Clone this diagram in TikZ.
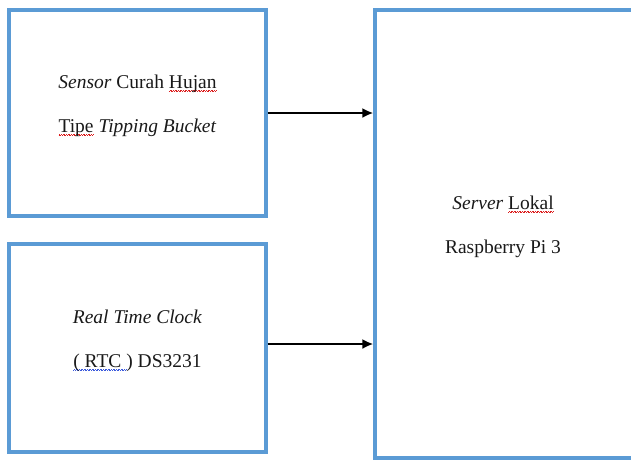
\documentclass[tikz,border=0pt]{standalone}
\usepackage{fontspec}
\setmainfont{Liberation Serif}
\usepackage{xcolor}
\usetikzlibrary{shapes,arrows.meta,positioning,calc}
\definecolor{boxblue}{RGB}{91,155,213}
\definecolor{spellred}{RGB}{220,30,30}
\definecolor{grammarblue}{RGB}{60,90,220}
\newsavebox{\wordbox}
\newcommand{\wavemark}[2]{\sbox{\wordbox}{#2}\rlap{\color{#1}\lower2.5pt\hbox to \wd\wordbox{\xleaders\hbox{\rule{0.8pt}{0.5pt}\rule[0.7pt]{0.8pt}{0.5pt}}\hfil}}\usebox{\wordbox}}

\begin{document}
\begin{tikzpicture}[x=1pt, y=-1pt,
    blockbox/.style={draw=boxblue, line width=3.2pt, rectangle, inner sep=0pt},
    blocktext/.style={align=center, text=black!90, font=\fontsize{19.5}{44}\selectfont},
    flow/.style={-{Latex[length=11pt,width=10pt]}, line width=2.6pt}]
    \useasboundingbox (0,0) rectangle (631,459);

    % Sensor curah hujan
    \node[blockbox, minimum width=257pt, minimum height=206pt] (sensor) at (137.5,113) {};
    \node[blocktext] (sensortxt) at (137.5,106) {\textit{Sensor} Curah \wavemark{spellred}{Hujan}\\ \wavemark{spellred}{Tipe} \textit{Tipping Bucket}};

    % RTC
    \node[blockbox, minimum width=257pt, minimum height=208pt] (rtc) at (137.5,348) {};
    \node[blocktext] (rtctxt) at (137.5,341) {\textit{Real Time Clock}\\ \wavemark{grammarblue}{( RTC }) DS3231};

    % Server lokal
    \node[blockbox, minimum width=275pt, minimum height=448pt] (server) at (512.5,234) {};
    \node[blocktext] (servertxt) at (503,227) {\textit{Server} \wavemark{spellred}{Lokal}\\ Raspberry Pi 3};

    % Arrows
    \draw[flow] (sensor.east) -- (sensor.east -| server.west);
    \draw[flow] ([yshift=4pt]rtc.east) -- ([yshift=4pt]rtc.east -| server.west);
\end{tikzpicture}
\end{document}
